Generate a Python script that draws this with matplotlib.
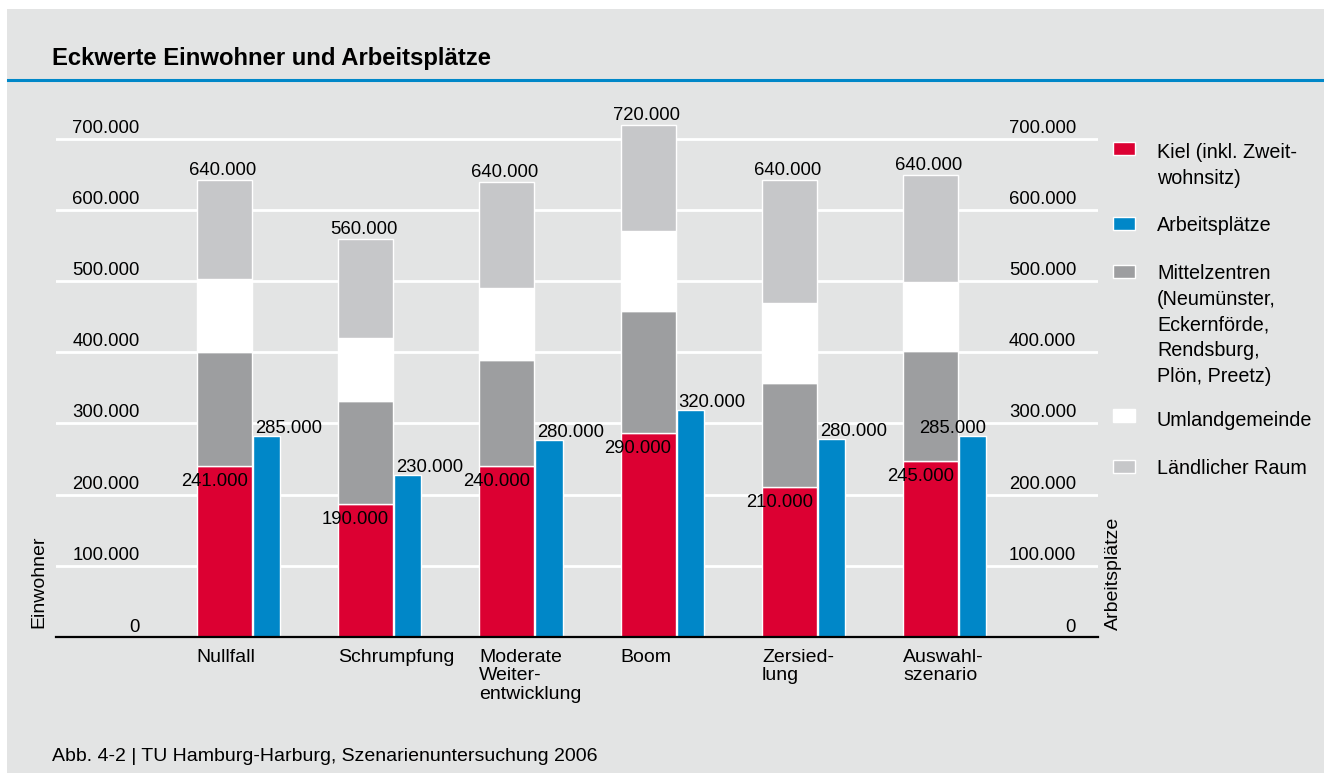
import matplotlib.pyplot as plt
from matplotlib.patches import Rectangle
from matplotlib.lines import Line2D
import numpy as np

plt.rcParams['font.family'] = ['Liberation Sans', 'DejaVu Sans']

# values (segment heights of the stacked bars)
szenarien = ["Nullfall", "Schrumpfung", "Moderate\nWeiter-\nentwicklung", "Boom", "Zersied-\nlung", "Auswahl-\nszenario"]
kiel      = [240000, 187000, 240000, 287000, 210000, 247000]
mittel    = [161000, 145000, 149000, 171000, 147000, 155000]
umland    = [102000,  88000, 102000, 112000, 113000,  97000]
laendlich = [140000, 139000, 148000, 150000, 173000, 151000]
arbeit    = [283000, 228000, 277000, 319000, 278000, 282000]

kielLabels   = ["241.000", "190.000", "240.000", "290.000", "210.000", "245.000"]
arbeitLabels = ["285.000", "230.000", "280.000", "320.000", "280.000", "285.000"]
gesamtLabels = ["640.000", "560.000", "640.000", "720.000", "640.000", "640.000"]

yTicks      = [0, 100000, 200000, 300000, 400000, 500000, 600000, 700000]
yTickLabels = ["0", "100.000", "200.000", "300.000", "400.000", "500.000", "600.000", "700.000"]

legendLabels = ["Kiel (inkl. Zweit-\nwohnsitz)", "Arbeitsplätze",
                "Mittelzentren\n(Neumünster,\nEckernförde,\nRendsburg,\nPlön, Preetz)",
                "Umlandgemeinde", "Ländlicher Raum"]

BG    = '#e3e4e4'
RED   = '#dc0032'
BLUE  = '#0087c8'
MID   = '#9d9ea0'
LIGHT = '#c6c7c9'
legendColors = [RED, BLUE, MID, 'white', LIGHT]

W, H = 1324, 773
PT = 0.72  # points per pixel at dpi 100
FS = 13.3  # numbers

fig = plt.figure(figsize=(W / 100, H / 100), dpi=100)
fig.patch.set_facecolor('white')
fig.patches.append(Rectangle((7 / W, 0), 1, 1 - 9 / H, transform=fig.transFigure,
                             facecolor=BG, edgecolor='none', zorder=-5))
fig.add_artist(Line2D([8 / W, 1], [1 - 79.5 / H] * 2, color=BLUE, lw=2.2))
fig.text(52 / W, 1 - 65 / H, "Eckwerte Einwohner und Arbeitsplätze",
         fontsize=17.2, weight='bold', va='baseline')

ax = fig.add_axes([55.7 / W, 1 - 636.7 / H, (1098 - 55.7) / W, 526.1 / H])
ax.set_facecolor('none')
ax.set_ylim(0, 740000)
ax.set_xlim(-1.1925, 6.184)
ax.set_yticks(yTicks)
ax.yaxis.grid(True, color='white', lw=2)
ax.set_axisbelow(True)
ax.tick_params(left=False, bottom=False, labelleft=False, labelbottom=False)
for s in ['left', 'right', 'top']:
    ax.spines[s].set_visible(False)
ax.spines['bottom'].set_color('black')
ax.spines['bottom'].set_linewidth(1.6)
ax.spines['bottom'].set_zorder(5)

x = np.arange(len(szenarien))
w = 0.389
wa = 0.193
kiel = np.array(kiel)
b1 = kiel + np.array(mittel)
b2 = b1 + np.array(umland)
total = b2 + np.array(laendlich)
xa = x + w / 2 + 0.007 + wa / 2

ax.bar(x, kiel, w, color=RED, edgecolor='white', lw=1, zorder=2)
ax.bar(x, mittel, w, bottom=kiel, color=MID, edgecolor='white', lw=1, zorder=2)
ax.bar(x, umland, w, bottom=b1, color='white', edgecolor='white', lw=1, zorder=2)
ax.bar(x, laendlich, w, bottom=b2, color=LIGHT, edgecolor='white', lw=1, zorder=2)
ax.bar(xa, arbeit, wa, color=BLUE, edgecolor='white', lw=1, zorder=2)

for i in range(len(szenarien)):
    ax.annotate(gesamtLabels[i], (x[i], total[i]), xytext=(-2 * PT, 5 * PT),
                textcoords='offset points', ha='center', va='baseline', fontsize=FS, zorder=6)
    ax.annotate(kielLabels[i], (x[i] + w / 2, kiel[i]), xytext=(-4 * PT, -20 * PT),
                textcoords='offset points', ha='right', va='baseline', fontsize=FS, zorder=6)
    if i == len(szenarien) - 1:
        # last one sits to the left so it keeps clear of the right axis labels
        ax.annotate(arbeitLabels[i], (xa[i] + wa / 2, arbeit[i]), xytext=(0, 3 * PT),
                    textcoords='offset points', ha='right', va='baseline', fontsize=FS, zorder=6)
    else:
        ax.annotate(arbeitLabels[i], (xa[i] - wa / 2, arbeit[i]), xytext=(2 * PT, 3 * PT),
                    textcoords='offset points', ha='left', va='baseline', fontsize=FS, zorder=6)
    ax.annotate(szenarien[i], (x[i] - w / 2, 0), xytext=(0, -12 * PT),
                textcoords='offset points', ha='left', va='top', fontsize=14,
                linespacing=1.11, annotation_clip=False)

for v, lab in zip(yTicks, yTickLabels):
    dy = 5 if v == 0 else 6
    ax.annotate(lab, (0.0806, v), xycoords=('axes fraction', 'data'), xytext=(0, dy * PT),
                textcoords='offset points', ha='right', va='baseline', fontsize=FS)
    ax.annotate(lab, (0.979, v), xycoords=('axes fraction', 'data'), xytext=(0, dy * PT),
                textcoords='offset points', ha='right', va='baseline', fontsize=FS)

fig.text(39 / W, 1 - 628 / H, "Einwohner", rotation=90, ha='center', va='bottom', fontsize=14)
fig.text(1113 / W, 1 - 630 / H, "Arbeitsplätze", rotation=90, ha='center', va='bottom', fontsize=14)

# legend, drawn by hand; texts placed by the top of their first line
patchTops = [142, 217, 265, 409, 460]
textTops  = [143, 216, 264, 411, 459]
for lab, col, pt, tt in zip(legendLabels, legendColors, patchTops, textTops):
    fig.patches.append(Rectangle((1113 / W, 1 - (pt + 13) / H), 22 / W, 13 / H,
                                 transform=fig.transFigure, facecolor=col,
                                 edgecolor='white', lw=1, zorder=3))
    fig.text(1157 / W, 1 - tt / H, lab, fontsize=14.2, va='top', linespacing=1.45)

fig.text(52 / W, 1 - 761 / H, "Abb. 4-2 | TU Hamburg-Harburg, Szenarienuntersuchung 2006",
         fontsize=14, va='baseline')

plt.savefig('out.png', dpi=100)
plt.close()
